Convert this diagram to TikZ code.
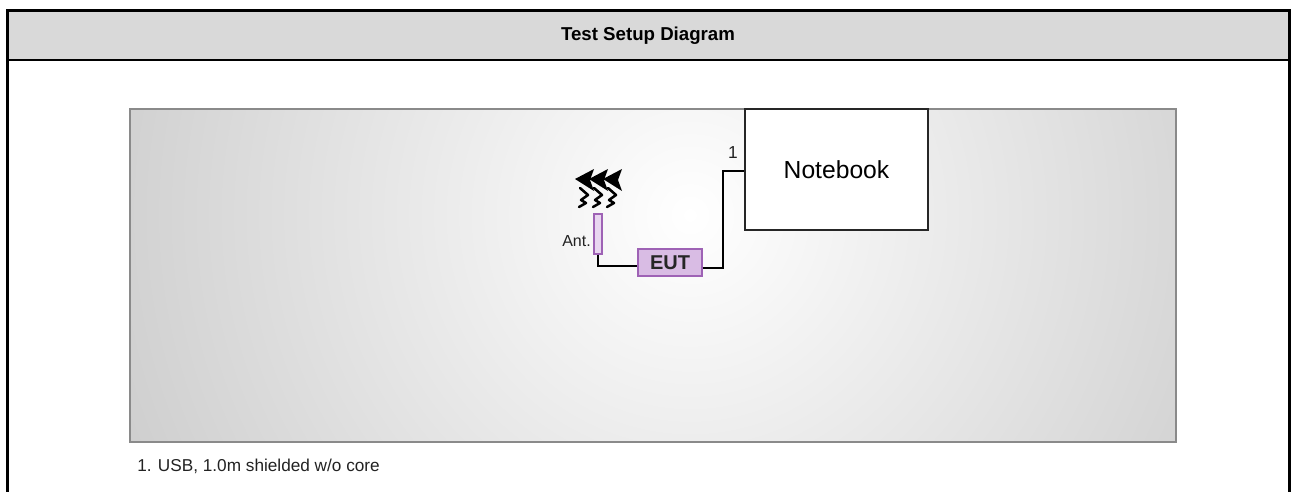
\documentclass[tikz,border=0pt]{standalone}
\usepackage{fontspec}
\setmainfont{Liberation Sans}
\usetikzlibrary{calc}
\definecolor{hdr}{HTML}{D9D9D9}
\definecolor{panelborder}{HTML}{8A8A8A}
\definecolor{panelouter}{HTML}{CFCFCF}
\definecolor{eutfill}{HTML}{D9BCE4}
\definecolor{purpline}{HTML}{9E62B5}
\definecolor{antfill}{HTML}{E8D6F0}
\definecolor{txt}{HTML}{222222}
\tikzset{
  frame/.style={line width=2.25pt, draw=black},
  devbox/.style={draw=black!85, line width=1.1pt, fill=white, inner sep=0pt},
  purpbox/.style={draw=purpline, line width=1pt, fill=eutfill, inner sep=0pt},
  cable/.style={draw=black, line width=1.1pt},
  lbl/.style={inner sep=0pt, text=txt}
}
\begin{document}
\begin{tikzpicture}[x=0.75pt,y=-0.75pt]
\useasboundingbox (0,0) rectangle (1293,492);
% header
\fill[hdr] (7,11) rectangle (1289.5,60);
\draw[line width=1.5pt] (7,60) -- (1289.5,60);
\draw[frame] (7,492) -- (7,11) -- (1289.5,11) -- (1289.5,492);
\node[font=\bfseries\fontsize{14}{16}\selectfont, inner sep=0pt] (title) at (648,36) {Test Setup Diagram};
% panel
\begin{scope}
  \clip (130,109) rectangle (1176,442);
  \fill[panelouter] (130,109) rectangle (1176,442);
  \shade[inner color=white, outer color=panelouter] (690,215) circle (600);
\end{scope}
\draw[panelborder, line width=1.5pt] (130,109) rectangle (1176,442);
% devices
\node[devbox, minimum width=137.25pt, minimum height=90.75pt, font=\fontsize{18.5}{20}\selectfont] (nb) at (836.5,169.5) {Notebook};
\node[purpbox, minimum width=48pt, minimum height=20.25pt, font=\bfseries\fontsize{15}{17}\selectfont, text=black!85] (eut) at (670,262.5) {EUT};
\node[draw=purpline, fill=antfill, line width=0.9pt, inner sep=0pt, minimum width=6pt, minimum height=30pt] (ant) at (598,234) {};
\node[lbl, font=\fontsize{12}{14}\selectfont, anchor=east] (antlbl) at (591,241) {Ant.};
\node[lbl, font=\fontsize{13}{15}\selectfont] (n1) at (733,153) {1};
% cables
\coordinate (c1) at (723,171);
\draw[cable] (ant.south) |- ($(eut.west)+(0,3.5)$);
\draw[cable] ($(eut.east)+(0,5.5)$) -| (c1) -- (c1 -| nb.west);
% radiation symbol
\foreach \k in {0,14,28} {
  \fill[black] (575+\k,179) -- (594+\k,169) -- (590+\k,180) -- (594+\k,191) -- cycle;
}
\foreach \k in {0,14,28} {
  \draw[line width=1.9pt, line join=round, line cap=round] (580+\k,188) -- (588+\k,195) -- (581+\k,200) -- (586+\k,203) -- (579+\k,207);
}
% note
\node[lbl, font=\fontsize{12.9}{15}\selectfont, anchor=west] (note) at (137,466) {1. USB, 1.0m shielded w/o core};
\end{tikzpicture}
\end{document}
